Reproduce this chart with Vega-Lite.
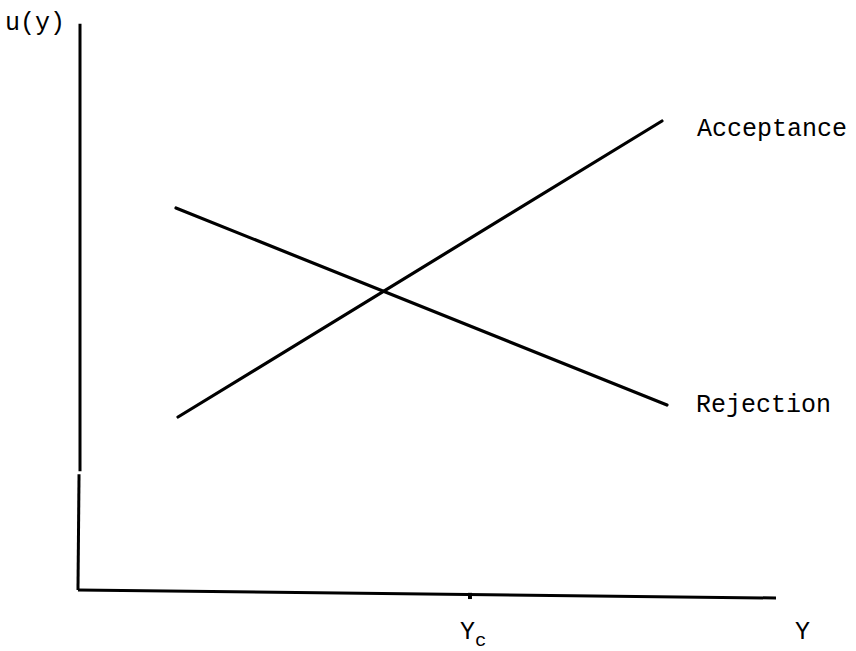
{
  "$schema": "https://vega.github.io/schema/vega-lite/v6.json",
  "width": 696,
  "height": 565,
  "padding": {"left": 80, "top": 25, "right": 80, "bottom": 61},
  "autosize": {"type": "none"},
  "background": "white",
  "config": {"view": {"stroke": null}},
  "layer": [
    {
      "data": {"values": [
        {"seg": "yaxis-top", "x": 0, "y": 100.2, "x2": 0, "y2": 21.0},
        {"seg": "yaxis-bottom", "x": -0.14, "y": 20.5, "x2": -0.29, "y2": 0},
        {"seg": "xaxis", "x": -0.29, "y": 0, "x2": 100, "y2": -1.42}
      ]},
      "mark": {"type": "rule", "color": "black", "strokeWidth": 3},
      "encoding": {
        "x": {"field": "x", "type": "quantitative", "scale": {"domain": [0, 100], "nice": false, "zero": false}, "axis": null},
        "y": {"field": "y", "type": "quantitative", "scale": {"domain": [0, 100], "nice": false, "zero": false}, "axis": null},
        "x2": {"field": "x2"},
        "y2": {"field": "y2"}
      }
    },
    {
      "data": {"values": [
        {"seg": "tick", "x": 56.03, "y": -0.5, "x2": 56.03, "y2": -1.6}
      ]},
      "mark": {"type": "rule", "color": "black", "strokeWidth": 4},
      "encoding": {
        "x": {"field": "x", "type": "quantitative"},
        "y": {"field": "y", "type": "quantitative"},
        "x2": {"field": "x2"},
        "y2": {"field": "y2"}
      }
    },
    {
      "data": {"values": [
        {"curve": "Acceptance", "x": 14.08, "y": 30.62},
        {"curve": "Acceptance", "x": 83.62, "y": 83.01},
        {"curve": "Rejection", "x": 13.79, "y": 67.61},
        {"curve": "Rejection", "x": 84.34, "y": 32.74}
      ]},
      "mark": {"type": "line", "color": "black", "strokeWidth": 3.2, "strokeCap": "round"},
      "encoding": {
        "x": {"field": "x", "type": "quantitative"},
        "y": {"field": "y", "type": "quantitative"},
        "detail": {"field": "curve"}
      }
    },
    {
      "data": {"values": [
        {"label": "u(y)", "x": -10.78, "y": 100.5},
        {"label": "Acceptance", "x": 88.65, "y": 81.8},
        {"label": "Rejection", "x": 88.51, "y": 32.9},
        {"label": "Y", "x": 102.73, "y": -7.26},
        {"label": "Y", "x": 54.6, "y": -7.26}
      ]},
      "mark": {"type": "text", "align": "left", "baseline": "middle", "font": "Liberation Mono", "fontSize": 25, "color": "black"},
      "encoding": {
        "x": {"field": "x", "type": "quantitative"},
        "y": {"field": "y", "type": "quantitative"},
        "text": {"field": "label"}
      }
    },
    {
      "data": {"values": [
        {"label": "c", "x": 56.75, "y": -8.9}
      ]},
      "mark": {"type": "text", "align": "left", "baseline": "middle", "font": "Liberation Mono", "fontSize": 19, "color": "black"},
      "encoding": {
        "x": {"field": "x", "type": "quantitative"},
        "y": {"field": "y", "type": "quantitative"},
        "text": {"field": "label"}
      }
    }
  ]
}
